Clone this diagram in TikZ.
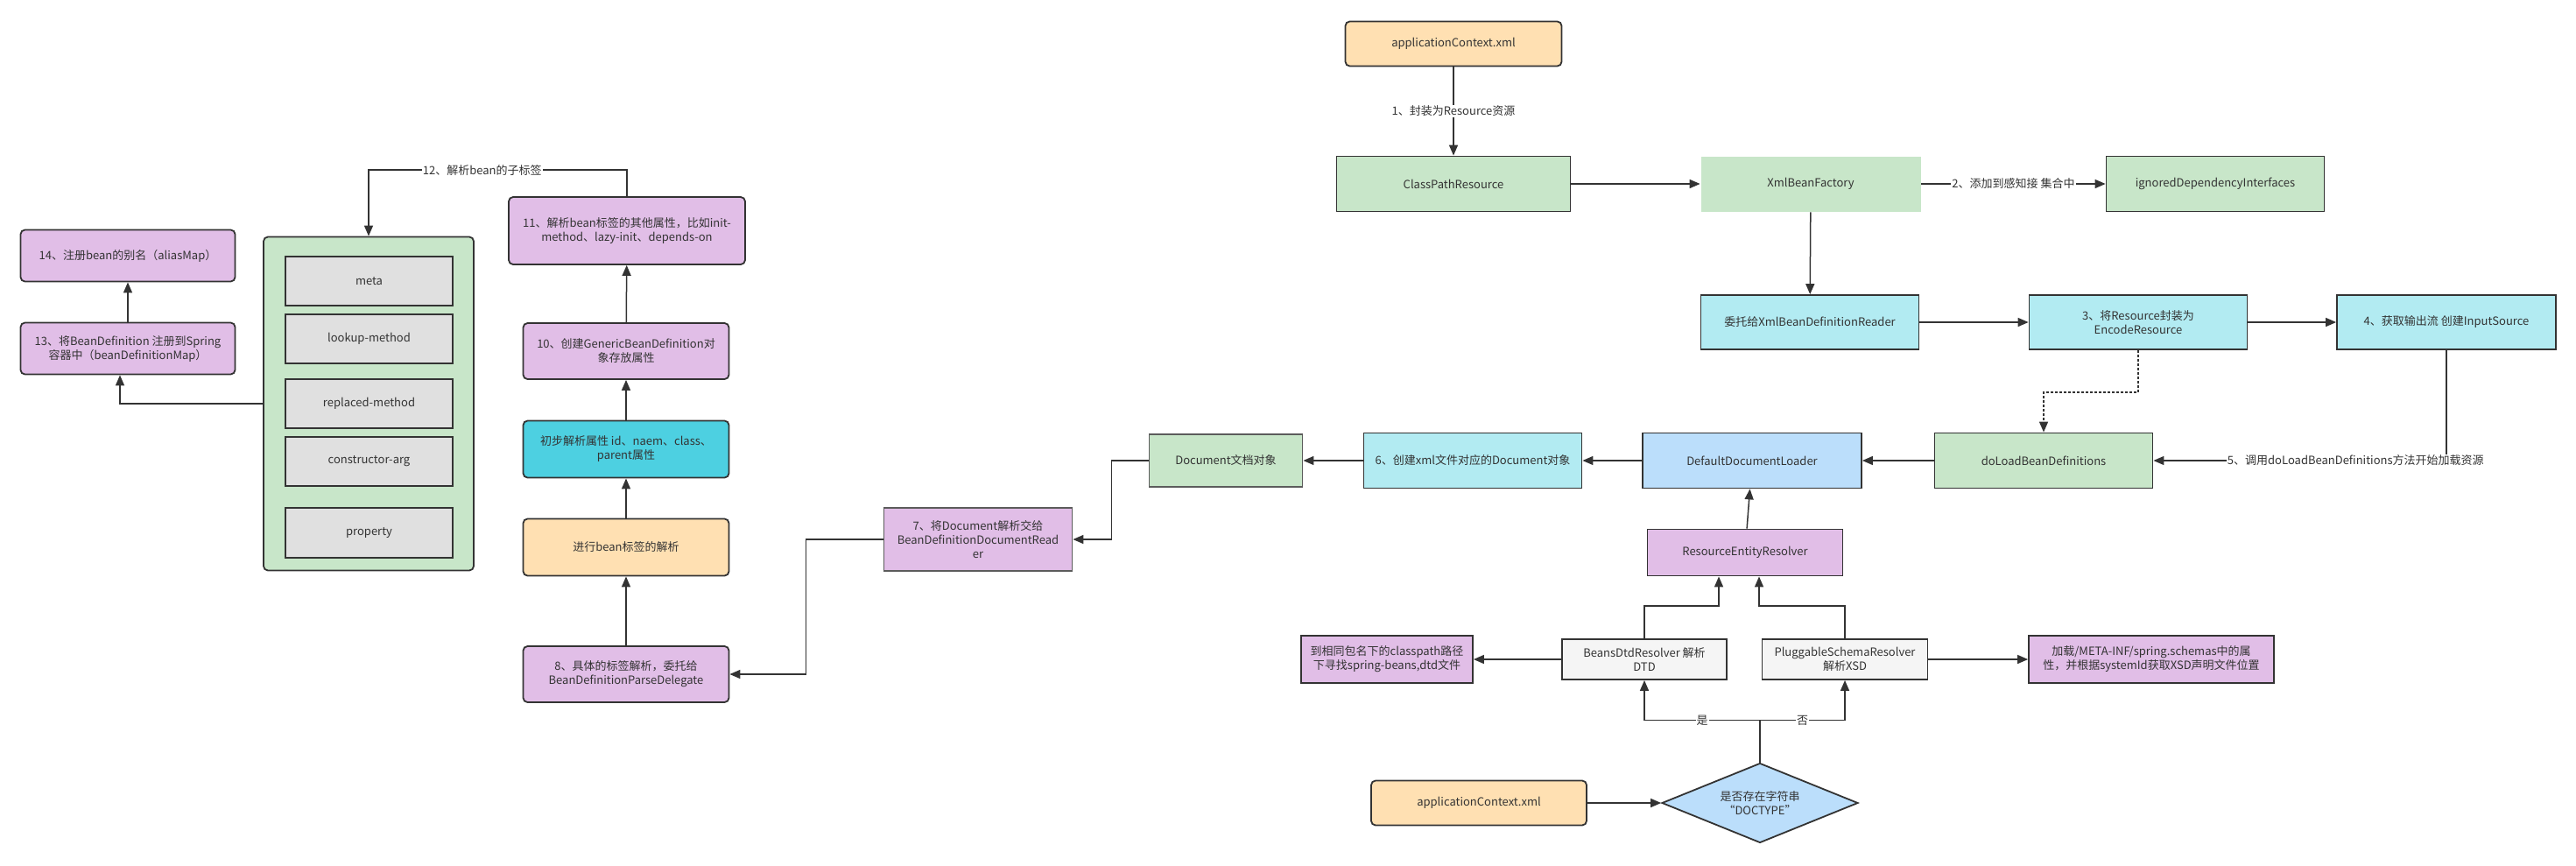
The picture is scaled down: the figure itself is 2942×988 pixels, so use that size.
\documentclass[tikz,border=0pt]{standalone}
\usepackage{fontspec}
\setmainfont{Noto Sans CJK SC}
\usetikzlibrary{arrows.meta,shapes.geometric}

\definecolor{linec}{HTML}{333333}
\definecolor{textc}{HTML}{333333}
\definecolor{orangec}{HTML}{FFE0B2}
\definecolor{greenc}{HTML}{C8E6C9}
\definecolor{cyanc}{HTML}{B2EBF2}
\definecolor{deepcyan}{HTML}{4DD0E1}
\definecolor{bluec}{HTML}{BBDEFB}
\definecolor{purplec}{HTML}{E1BEE7}
\definecolor{grayc}{HTML}{E0E0E0}
\definecolor{lightc}{HTML}{F5F5F5}

\begin{document}
\begin{tikzpicture}[
  x=1pt, y=-1pt,
  box/.style={rectangle, draw=linec, line width=1.8pt, align=center, text=textc, font=\fontsize{13}{16}\selectfont, inner sep=2pt},
  rbox/.style={box, rounded corners=5pt},
  tagbox/.style={box, fill=grayc, minimum width=191pt, minimum height=56pt},
  arrow/.style={-{Triangle[length=12pt,width=10pt]}, line width=1.5pt, draw=linec},
  dotline/.style={arrow, dash pattern=on 3pt off 2pt},
  lbl/.style={fill=white, inner sep=1pt, text=textc, font=\fontsize{13}{16}\selectfont}
]
\useasboundingbox (0,0) rectangle (2942,988);

\node[rbox, fill=orangec, minimum width=247pt, minimum height=51pt] (app1) at (1660,50) {applicationContext.xml};
\node[box, fill=greenc, minimum width=267pt, minimum height=63pt] (cpr) at (1660,210) {ClassPathResource};
\node[box, draw=none, fill=greenc, minimum width=251pt, minimum height=63pt] (xbf) at (2068,210) {XmlBeanFactory};
\node[box, fill=greenc, minimum width=249pt, minimum height=63pt] (ign) at (2530,210) {ignoredDependencyInterfaces};
\node[box, fill=cyanc, minimum width=249pt, minimum height=62pt] (deleg) at (2067,368) {委托给XmlBeanDefinitionReader};
\node[box, fill=cyanc, minimum width=249pt, minimum height=62pt] (enc) at (2442,368) {3、将Resource封装为\\EncodeResource};
\node[box, fill=cyanc, minimum width=250pt, minimum height=62pt] (ins) at (2794,368) {4、获取输出流 创建InputSource};
\node[box, fill=greenc, minimum width=249pt, minimum height=63pt] (doload) at (2334,526) {doLoadBeanDefinitions};
\node[box, fill=bluec, minimum width=250pt, minimum height=63pt] (ddl) at (2001,526) {DefaultDocumentLoader};
\node[box, fill=cyanc, minimum width=249pt, minimum height=63pt] (crt) at (1682,526) {6、创建xml文件对应的Document对象};
\node[box, draw=linec!80, fill=greenc, minimum width=175pt, minimum height=60pt] (doc) at (1400,526) {Document文档对象};
\node[box, draw=linec!80, fill=purplec, minimum width=215pt, minimum height=72pt] (hand) at (1117,616) {7、将Document解析交给\\BeanDefinitionDocumentRead\\er};
\node[box, fill=purplec, minimum width=223pt, minimum height=53pt] (rer) at (1993,631) {ResourceEntityResolver};
\node[box, fill=lightc, minimum width=188pt, minimum height=46pt] (dtd) at (1878,753) {BeansDtdResolver 解析\\DTD};
\node[box, fill=lightc, minimum width=189pt, minimum height=46pt] (xsd) at (2107,753) {PluggableSchemaResolver\\解析XSD};
\node[box, fill=purplec, minimum width=196pt, minimum height=54pt] (cp) at (1584,753) {到相同包名下的classpath路径\\下寻找spring-beans,dtd文件};
\node[box, fill=purplec, minimum width=280pt, minimum height=54pt] (meta) at (2457,753) {加载/META-INF/spring.schemas中的属\\性，并根据systemId获取XSD声明文件位置};
\node[rbox, fill=orangec, minimum width=246pt, minimum height=51pt] (app2) at (1689,917) {applicationContext.xml};
\node[box, diamond, aspect=2.46, fill=bluec, minimum width=224pt, minimum height=91pt] (dec) at (2010,917) {是否存在字符串\\“DOCTYPE”};

\node[rbox, fill=purplec, minimum width=235pt, minimum height=64pt] (n8) at (715,770) {8、具体的标签解析，委托给\\BeanDefinitionParseDelegate};
\node[rbox, fill=orangec, minimum width=235pt, minimum height=65pt] (parse) at (715,625) {进行bean标签的解析};
\node[rbox, fill=deepcyan, minimum width=235pt, minimum height=65pt] (n9) at (715,513) {初步解析属性 id、naem、class、\\parent属性};
\node[rbox, fill=purplec, minimum width=235pt, minimum height=64pt] (n10) at (715,401) {10、创建GenericBeanDefinition对\\象存放属性};
\node[rbox, fill=purplec, minimum width=270pt, minimum height=77pt] (n11) at (716,263.5) {11、解析bean标签的其他属性，比如init-\\method、lazy-init、depends-on};

\node[rbox, fill=greenc, minimum width=240pt, minimum height=381pt] (kids) at (421,461) {};
\node[tagbox] (t1) at (421.5,321) {meta};
\node[tagbox] (t2) at (421.5,387) {lookup-method};
\node[tagbox] (t3) at (421.5,461) {replaced-method};
\node[tagbox] (t4) at (421.5,527) {constructor-arg};
\node[tagbox, minimum height=57pt] (t5) at (421.5,608.5) {property};

\node[rbox, fill=purplec, minimum width=245pt, minimum height=59pt] (n13) at (146,398) {13、将BeanDefinition 注册到Spring\\容器中（beanDefinitionMap）};
\node[rbox, fill=purplec, minimum width=245pt, minimum height=59pt] (n14) at (146,292) {14、注册bean的别名（aliasMap）};

\draw[arrow] (app1) -- node[lbl] {1、封装为Resource资源} (cpr);
\draw[arrow] (cpr) -- (xbf);
\draw[arrow] (xbf) -- node[lbl] {2、添加到感知接 集合中} (ign);
\draw[arrow] (xbf) -- (deleg);
\draw[arrow] (deleg) -- (enc);
\draw[arrow] (enc) -- (ins);
\draw[dotline] (enc.south) -- ++(0,48) -| (doload.north);
\draw[arrow] (ins.south) |- node[lbl, pos=0.655] {5、调用doLoadBeanDefinitions方法开始加载资源} (doload.east);
\draw[arrow] (doload) -- (ddl);
\draw[arrow] (ddl) -- (crt);
\draw[arrow] (crt) -- (doc);
\draw[arrow] (doc.west) -- ++(-42,0) |- (hand.east);
\draw[arrow] (hand.west) -- ++(-88,0) |- (n8.east);
\draw[arrow] (n8) -- (parse);
\draw[arrow] (parse) -- (n9);
\draw[arrow] (n9) -- (n10);
\draw[arrow] (n10) -- (n11);
\draw[arrow] (n11.north) -- ++(0,-30) -| node[lbl, pos=0.28] {12、解析bean的子标签} (kids.north);
\draw[arrow] (kids.west) -| ([xshift=-9pt]n13.south);
\draw[arrow] (n13) -- (n14);
\draw[arrow] (rer) -- (ddl);
\draw[arrow] (dtd.north) -- ++(0,-37) -| ([xshift=-30pt]rer.south);
\draw[arrow] (xsd.north) -- ++(0,-37) -| ([xshift=16pt]rer.south);
\draw[arrow] (dec.north) -- ++(0,-48) -| node[lbl, pos=0.25] {是} (dtd.south);
\draw[arrow] (dec.north) -- ++(0,-48) -| node[lbl, pos=0.25] {否} (xsd.south);
\draw[arrow] (dtd) -- (cp);
\draw[arrow] (xsd) -- (meta);
\draw[arrow] (app2) -- (dec);
\end{tikzpicture}
\end{document}
